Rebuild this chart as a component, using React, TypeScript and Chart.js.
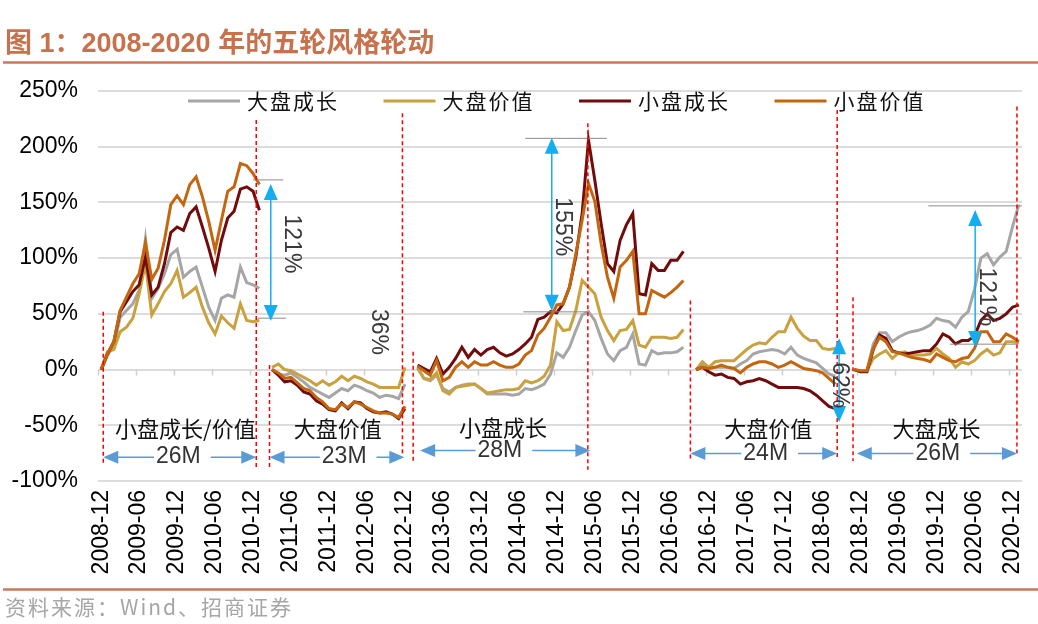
import React, { useEffect, useRef } from "react";
import { Chart, registerables } from "chart.js";

Chart.register(...registerables);

// ---------- categories / ticks ----------
const TICK_LABELS = [
  "2008-12", "2009-06", "2009-12", "2010-06", "2010-12", "2011-06", "2011-12",
  "2012-06", "2012-12", "2013-06", "2013-12", "2014-06", "2014-12", "2015-06",
  "2015-12", "2016-06", "2016-12", "2017-06", "2017-12", "2018-06", "2018-12",
  "2019-06", "2019-12", "2020-06", "2020-12",
];
const MONTH_COUNT = 146; // monthly categories, a label every 6 months
const SEGMENT_STARTS = [0, 27, 50, 94, 119];

const SERIES_NAMES = ["大盘成长", "大盘价值", "小盘成长", "小盘价值"];
const SERIES_COLORS = ["#a6a6a6", "#c9a23f", "#700c0c", "#c4660f"];

const Y_TICKS = [-100, -50, 0, 50, 100, 150, 200, 250];

// ---------- series values (% cumulative return in each round) ----------
const LARGE_GROWTH_1 = [0, 13, 22, 47, 53, 59, 71, 117, 64, 73, 86, 103, 108, 83, 88, 92, 74, 56, 44, 64, 67, 65, 92, 78, 76, 73];
const LARGE_GROWTH_2 = [0, -4, -5, -3, -7, -11, -16, -19, -22, -25, -21, -17, -19, -14, -16, -19, -21, -25, -23, -24, -26, -13];
const LARGE_GROWTH_3 = [1, -8, -10, -5, -17, -20, -16, -14, -13, -13, -17, -22, -22, -22, -22, -23, -22, -17, -18, -16, -13, -4, 15, 11, 20, 35, 49, 52, 44, 28, 14, 8, 17, 20, 32, 5, 4, 17, 14, 15, 15, 16, 20];
const LARGE_GROWTH_4 = [0, 4, 1, 2, 2, 2, 1, 5, 8, 14, 16, 17, 18, 17, 14, 20, 13, 10, 8, 6, 1, -4, -6];
const LARGE_GROWTH_5 = [0, -2, -1, 23, 33, 33, 25, 29, 32, 34, 35, 37, 40, 46, 44, 43, 38, 47, 52, 72, 100, 104, 94, 101, 106, 128, 148];

const LARGE_VALUE_1 = [0, 16, 18, 34, 38, 46, 68, 95, 49, 59, 70, 77, 89, 65, 69, 74, 56, 42, 32, 48, 42, 37, 59, 44, 43, 44];
const LARGE_VALUE_2 = [2, 5, 0, -1, -4, -7, -10, -14, -10, -14, -11, -6, -10, -6, -8, -11, -13, -16, -16, -16, -16, 2];
const LARGE_VALUE_3 = [2, -8, -9, -3, -19, -22, -16, -15, -14, -13, -17, -21, -20, -19, -18, -18, -17, -10, -12, -10, -6, 4, 43, 35, 36, 53, 80, 74, 68, 47, 35, 26, 35, 36, 44, 22, 20, 29, 29, 29, 28, 29, 36];
const LARGE_VALUE_4 = [0, 7, 2, 7, 8, 8, 8, 13, 18, 22, 24, 23, 29, 34, 34, 47, 37, 30, 26, 26, 19, 18, 19];
const LARGE_VALUE_5 = [0, -2, -1, 10, 14, 17, 10, 15, 16, 13, 13, 13, 14, 19, 14, 10, 2, 7, 5, 8, 14, 18, 13, 15, 25, 25, 24];

const SMALL_GROWTH_1 = [0, 14, 25, 52, 61, 70, 76, 101, 67, 74, 95, 123, 128, 125, 140, 146, 128, 109, 88, 116, 136, 142, 162, 164, 160, 143];
const SMALL_GROWTH_2 = [0, -5, -11, -10, -14, -20, -22, -28, -31, -36, -37, -30, -35, -29, -30, -35, -38, -39, -38, -40, -44, -35];
const SMALL_GROWTH_3 = [4, 1, -2, 10, -4, 2, 10, 20, 11, 18, 13, 18, 20, 15, 12, 14, 18, 23, 29, 45, 47, 52, 51, 59, 74, 101, 140, 206, 170, 131, 95, 88, 116, 130, 140, 68, 67, 95, 89, 89, 98, 98, 106];
const SMALL_GROWTH_4 = [0, 2, -2, -5, -4, -7, -8, -13, -11, -10, -8, -10, -13, -16, -16, -16, -16, -17, -19, -23, -28, -33, -35];
const SMALL_GROWTH_5 = [0, -2, -2, 18, 31, 28, 17, 15, 14, 15, 16, 17, 17, 23, 32, 29, 23, 26, 26, 30, 44, 50, 44, 46, 50, 56, 58];

const SMALL_VALUE_1 = [0, 14, 25, 53, 65, 77, 86, 114, 81, 91, 116, 148, 156, 148, 166, 173, 155, 133, 107, 134, 160, 164, 185, 183, 176, 166];
const SMALL_VALUE_2 = [0, -3, -8, -7, -12, -17, -19, -25, -29, -35, -36, -31, -34, -29, -31, -34, -37, -39, -39, -40, -43, -33];
const SMALL_VALUE_3 = [3, -1, -5, 8, -10, -7, 2, 7, 2, 7, 4, 4, 7, 4, 2, 2, 5, 13, 17, 31, 37, 47, 58, 59, 74, 104, 134, 167, 151, 113, 83, 64, 92, 98, 106, 50, 50, 71, 68, 65, 69, 74, 80];
const SMALL_VALUE_4 = [0, 2, 1, 2, 4, 2, 1, -3, 2, 5, 7, 7, 5, 2, 4, 7, 4, 1, 0, -1, -3, -8, -13];
const SMALL_VALUE_5 = [0, -1, -1, 19, 29, 25, 16, 15, 13, 11, 10, 9, 7, 14, 11, 8, 7, 10, 11, 19, 34, 34, 25, 25, 32, 29, 25];

// ---------- annotation texts ----------
const ROUND_STYLES = ["小盘成长/价值", "大盘价值", "小盘成长", "大盘价值", "大盘成长"];
const ROUND_DURATIONS = ["26M", "23M", "28M", "24M", "26M"];

// annotation geometry in data coordinates (category index, % value)
const RED_DASHES = [
  [0.33, 52, -86], [24.5, 224, -89], [26.6, 4, -88], [47.6, 230, -77], [49.3, 16, -82],
  [76.9, 221, -90], [93.1, 62, -80], [116.3, 233, -80], [118.8, 65, -82], [144.7, 236, -75],
];
const GAP_ARROWS = [
  { x: 26.8, top: 166.6, bottom: 43.7, text: "121%", tx: 30.1, ty: 112.7 },
  { x: 71.2, top: 208, bottom: 52.7, text: "155%", tx: 72.8, ty: 128.2 },
  { x: 116.6, top: 28.1, bottom: -47.1, text: "62%", tx: 116.6, ty: -14.1 },
  { x: 138.1, top: 143.3, bottom: 20.3, text: "121%", tx: 139.9, ty: 65.3 },
];
const EXTRA_PCT = { text: "36%", tx: 43.8, ty: 33.8 };
const REF_LINES = [
  [24.0, 28.8, 170.2], [24.7, 29.2, 46.1],
  [67.0, 79.9, 207.5], [66.7, 76.9, 51.8],
  [130.7, 145.5, 146.9], [134.1, 144.9, 22.8],
];
const ROUND_LABEL_POS = [[13.3, -52.7], [37.4, -52.7], [63.5, -52.0], [105.4, -52.7], [132.0, -52.7]];
const DURATION_ARROWS = [
  { from: 0.33, to: 24.5, y: -78.6, tx: 12.2 },
  { from: 26.6, to: 47.9, y: -78.6, tx: 38.4 },
  { from: 50.4, to: 77.3, y: -72.6, tx: 63.0 },
  { from: 93.1, to: 116.3, y: -75.3, tx: 105.0 },
  { from: 119.4, to: 144.7, y: -75.3, tx: 132.2 },
];

function placeSegments(segments: number[][]): (number | null)[] {
  const arr: (number | null)[] = new Array(MONTH_COUNT).fill(null);
  segments.forEach((seg, k) => {
    seg.forEach((v, j) => {
      arr[SEGMENT_STARTS[k] + j] = v;
    });
  });
  return arr;
}

const CATEGORIES: string[] = Array.from({ length: MONTH_COUNT }, (_, i) =>
  i % 6 === 0 && TICK_LABELS[i / 6] ? TICK_LABELS[i / 6] : ""
);

const LATIN = '"Liberation Sans", Arial, "Noto Sans CJK SC", sans-serif';
const CJK = '"Noto Sans CJK SC", "Liberation Sans", sans-serif';

function arrowHead(ctx: CanvasRenderingContext2D, tipX: number, tipY: number, dx: number, dy: number, len: number, half: number) {
  const bx = tipX - dx * len;
  const by = tipY - dy * len;
  ctx.beginPath();
  ctx.moveTo(tipX, tipY);
  ctx.lineTo(bx - dy * half, by + dx * half);
  ctx.lineTo(bx + dy * half, by - dx * half);
  ctx.closePath();
  ctx.fill();
}

const decorPlugin = {
  id: "decor",
  beforeDraw(chart: any) {
    const { ctx, width } = chart;
    ctx.save();
    ctx.fillStyle = "#ffffff";
    ctx.fillRect(0, 0, width, chart.height);
    // title
    ctx.fillStyle = "#c8714d";
    ctx.font = `bold 27px ${LATIN}`;
    ctx.textBaseline = "middle";
    ctx.textAlign = "left";
    ctx.fillText("图 1：2008-2020 年的五轮风格轮动", 5, 45);
    // rules
    ctx.strokeStyle = "#c8795b";
    ctx.lineWidth = 2.5;
    ctx.beginPath();
    ctx.moveTo(3, 62.5);
    ctx.lineTo(width, 62.5);
    ctx.moveTo(3, 589.5);
    ctx.lineTo(width, 589.5);
    ctx.stroke();
    // source
    ctx.fillStyle = "#a6a6a6";
    ctx.font = `21px ${CJK}`;
    (ctx as any).letterSpacing = "2px";
    ctx.fillText("资料来源：Wind、招商证券", 5, 607);
    (ctx as any).letterSpacing = "0px";
    ctx.restore();
  },
  beforeDatasetsDraw(chart: any) {
    const { ctx, chartArea } = chart;
    const x = chart.scales.x;
    const y = chart.scales.y;
    const y0 = y.getPixelForValue(0);
    ctx.save();
    // small tick marks on the 0% axis
    ctx.strokeStyle = "#d0d0d0";
    ctx.lineWidth = 1.5;
    ctx.beginPath();
    for (let i = 0; i < MONTH_COUNT; i += 6) {
      const px = Math.round(x.getPixelForValue(i - 0.5)) + 0.5;
      ctx.moveTo(px, y0);
      ctx.lineTo(px, y0 + 6);
    }
    ctx.stroke();
    // category labels (rotated) at the bottom of the plot
    ctx.fillStyle = "#000000";
    ctx.font = `23px ${LATIN}`;
    ctx.textAlign = "right";
    ctx.textBaseline = "middle";
    CATEGORIES.forEach((lab, i) => {
      if (!lab) return;
      ctx.save();
      ctx.translate(x.getPixelForValue(i), chartArea.bottom + 9);
      ctx.rotate(-Math.PI / 2);
      ctx.fillText(lab, 0, 0);
      ctx.restore();
    });
    ctx.restore();
  },
  afterDatasetsDraw(chart: any) {
    const { ctx } = chart;
    const xs = chart.scales.x;
    const ys = chart.scales.y;
    const X = (v: number) => xs.getPixelForValue(v);
    const Y = (v: number) => ys.getPixelForValue(v);
    ctx.save();

    // gray reference lines
    ctx.strokeStyle = "#8c8c8c";
    ctx.lineWidth = 1;
    ctx.beginPath();
    REF_LINES.forEach(([a, b, v]) => {
      ctx.moveTo(X(a), Y(v));
      ctx.lineTo(X(b), Y(v));
    });
    ctx.stroke();

    // red dashed separators
    ctx.strokeStyle = "#ff0000";
    ctx.lineWidth = 1.5;
    ctx.setLineDash([4, 3]);
    ctx.beginPath();
    RED_DASHES.forEach(([i, t, b]) => {
      const px = X(i);
      ctx.moveTo(px, Y(t));
      ctx.lineTo(px, Y(b));
    });
    ctx.stroke();
    ctx.setLineDash([]);

    // sky-blue gap arrows
    ctx.strokeStyle = "#14aef0";
    ctx.fillStyle = "#14aef0";
    ctx.lineWidth = 1.5;
    GAP_ARROWS.forEach((a) => {
      const px = X(a.x);
      const t = Y(a.top);
      const b = Y(a.bottom);
      ctx.beginPath();
      ctx.moveTo(px, t + 10);
      ctx.lineTo(px, b - 10);
      ctx.stroke();
      arrowHead(ctx, px, t, 0, -1, 16, 7);
      arrowHead(ctx, px, b, 0, 1, 16, 7);
    });

    // rotated percentages
    ctx.fillStyle = "#3a3a3a";
    ctx.font = `23px ${LATIN}`;
    ctx.textAlign = "center";
    ctx.textBaseline = "middle";
    [...GAP_ARROWS, EXTRA_PCT].forEach((a: any) => {
      ctx.save();
      ctx.translate(X(a.tx), Y(a.ty));
      ctx.rotate(Math.PI / 2);
      ctx.fillText(a.text, 0, 0);
      ctx.restore();
    });

    // round style labels
    ctx.fillStyle = "#111111";
    ctx.font = `22px ${CJK}`;
    ROUND_STYLES.forEach((s, k) => {
      const [i, v] = ROUND_LABEL_POS[k];
      ctx.fillText(s, X(i), Y(v));
    });

    // duration arrows
    ctx.font = `23px ${LATIN}`;
    DURATION_ARROWS.forEach((d, k) => {
      const l = X(d.from);
      const r = X(d.to);
      const py = Y(d.y);
      const tx = X(d.tx);
      const tw = ctx.measureText(ROUND_DURATIONS[k]).width;
      ctx.strokeStyle = "#5b9bd5";
      ctx.fillStyle = "#5b9bd5";
      ctx.lineWidth = 1.5;
      ctx.beginPath();
      ctx.moveTo(l + 8, py);
      ctx.lineTo(tx - tw / 2 - 2, py);
      ctx.moveTo(tx + tw / 2 + 10, py);
      ctx.lineTo(r - 8, py);
      ctx.stroke();
      arrowHead(ctx, l, py, -1, 0, 15, 6.5);
      arrowHead(ctx, r, py, 1, 0, 15, 6.5);
      ctx.fillStyle = "#333333";
      ctx.fillText(ROUND_DURATIONS[k], tx, py);
    });

    // legend (inside plot, top)
    ctx.textAlign = "left";
    ctx.font = `21px ${CJK}`;
    chart.data.datasets.forEach((ds: any, k: number) => {
      const lx = 188 + k * 195.5;
      const ly = 101;
      ctx.strokeStyle = ds.borderColor;
      ctx.lineWidth = 3;
      ctx.beginPath();
      ctx.moveTo(lx, ly);
      ctx.lineTo(lx + 52, ly);
      ctx.stroke();
      ctx.fillStyle = "#111111";
      (ctx as any).letterSpacing = "2px";
      ctx.fillText(ds.label, lx + 59, ly);
      (ctx as any).letterSpacing = "0px";
    });
    ctx.restore();
  },
};

export default function App() {
  const canvasRef = useRef<HTMLCanvasElement | null>(null);

  useEffect(() => {
    document.body.style.margin = "0";
    const canvas = canvasRef.current;
    if (!canvas) return;
    const seriesSegments = [
      [LARGE_GROWTH_1, LARGE_GROWTH_2, LARGE_GROWTH_3, LARGE_GROWTH_4, LARGE_GROWTH_5],
      [LARGE_VALUE_1, LARGE_VALUE_2, LARGE_VALUE_3, LARGE_VALUE_4, LARGE_VALUE_5],
      [SMALL_GROWTH_1, SMALL_GROWTH_2, SMALL_GROWTH_3, SMALL_GROWTH_4, SMALL_GROWTH_5],
      [SMALL_VALUE_1, SMALL_VALUE_2, SMALL_VALUE_3, SMALL_VALUE_4, SMALL_VALUE_5],
    ];
    const chart = new Chart(canvas, {
      type: "line",
      data: {
        labels: CATEGORIES,
        datasets: SERIES_NAMES.map((name, k) => ({
          label: name,
          data: placeSegments(seriesSegments[k]),
          borderColor: SERIES_COLORS[k],
          backgroundColor: SERIES_COLORS[k],
          borderWidth: 3,
          pointRadius: 0,
          tension: 0,
          spanGaps: false,
          order: 3 - k,
        })),
      },
      options: {
        responsive: false,
        animation: false,
        devicePixelRatio: 1,
        layout: { padding: { top: 91, left: 0, right: 16, bottom: 143 } },
        plugins: {
          legend: { display: false },
          tooltip: { enabled: false },
          title: { display: false },
        },
        scales: {
          x: {
            type: "category",
            offset: true,
            display: false,
          },
          y: {
            min: -100,
            max: 250,
            afterBuildTicks: (scale: any) => {
              scale.ticks = Y_TICKS.map((v) => ({ value: v }));
            },
            grid: { color: "#dcdcdc", lineWidth: 2, drawTicks: false },
            border: { display: false },
            ticks: {
              padding: 20,
              color: "#000000",
              font: { family: LATIN, size: 23 },
              callback: (v: any) => `${v}%`,
            },
            afterFit: (scale: any) => {
              scale.width = 98;
            },
          },
        },
      },
      plugins: [decorPlugin],
    });
    return () => chart.destroy();
  }, []);

  return (
    <div style={{ width: 1038, height: 624, position: "relative" }}>
      <canvas ref={canvasRef} width={1038} height={624} style={{ display: "block" }} />
    </div>
  );
}
